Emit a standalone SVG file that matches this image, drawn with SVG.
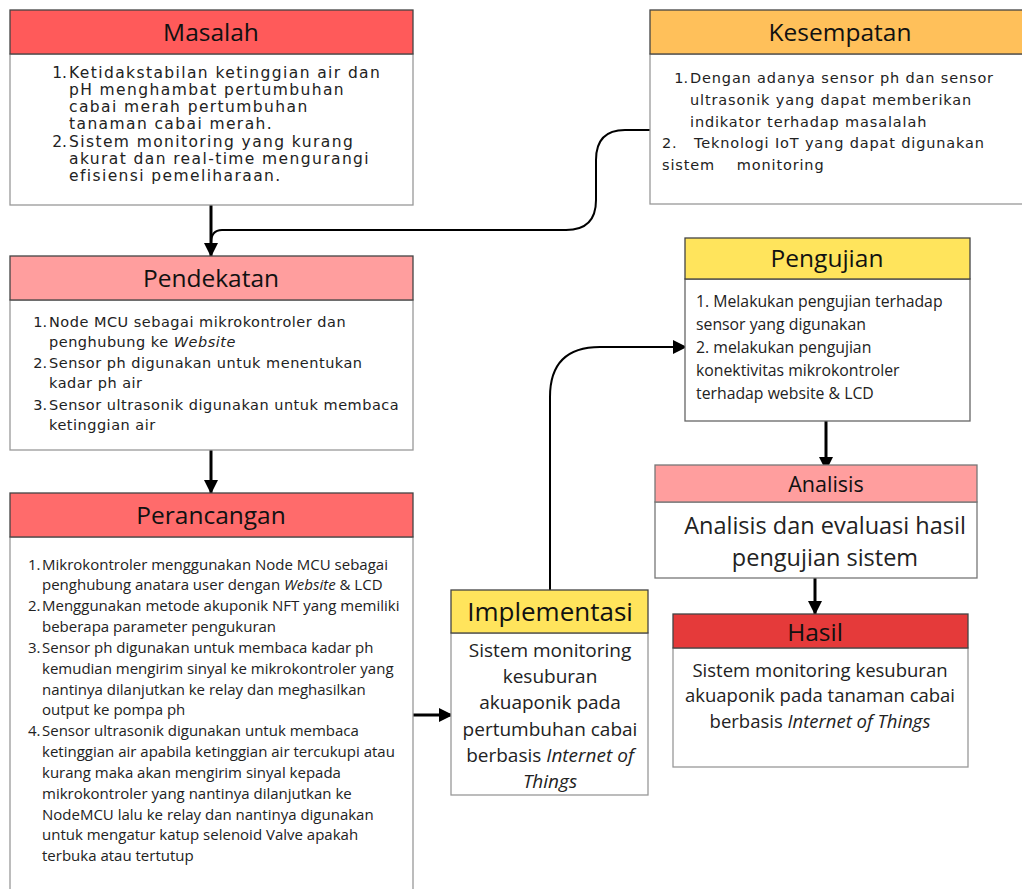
<svg xmlns="http://www.w3.org/2000/svg" width="1022" height="889" viewBox="0 0 1022 889">
<defs>
<marker id="ahb" markerWidth="14" markerHeight="14" refX="13" refY="7" orient="auto" markerUnits="userSpaceOnUse">
<path d="M0,0 L14,7 L0,14 Z" fill="#000"/>
</marker>
</defs>
<style>
.body{fill:#fff;stroke:#999;stroke-width:1.3}
.hdr{stroke:#444;stroke-width:1.3}
.title{font-family:"Open Sans","Noto Sans",sans-serif;fill:#111;text-anchor:middle;font-size:24.5px}
.pop{font-family:"DejaVu Sans","Noto Sans",sans-serif;fill:#222}
.os{font-family:"Open Sans","Noto Sans",sans-serif;fill:#222}
.ctr{text-anchor:middle}
.num{text-anchor:end;letter-spacing:0}
.conn{fill:none;stroke:#000}
</style>
<rect width="1022" height="889" fill="#fff"/>

<g id="connectors">
<path class="conn" stroke-width="3" d="M211,205 V243" />
<path class="conn" stroke-width="3" d="M211,243 V256" marker-end="url(#ahb)"/>
<path class="conn" stroke-width="2" d="M650,130 H625 Q596,130 596,160 V200 Q596,230 566,230 H222 Q211,230 211,243"/>
<path class="conn" stroke-width="3" d="M211,450 V493" marker-end="url(#ahb)"/>
<path class="conn" stroke-width="3" d="M413,715 H452" marker-end="url(#ahb)"/>
<path class="conn" stroke-width="2" d="M550,590 V397 Q550,347 600,347 H686" marker-end="url(#ahb)"/>
<path class="conn" stroke-width="3" d="M826,421 V470" marker-end="url(#ahb)"/>
<path class="conn" stroke-width="3" d="M815,578 V614" marker-end="url(#ahb)"/>
</g>

<g id="masalah">
<rect class="body" x="10" y="54" width="403" height="151"/>
<rect class="hdr" x="10" y="10" width="403" height="44" fill="#FF5A5A"/>
<text class="title" x="211" y="41">Masalah</text>
<g class="pop" font-size="15.5" letter-spacing="1.4">
<text class="num" x="67" y="78">1.</text><text x="69" y="78">Ketidakstabilan ketinggian air dan</text>
<text x="69" y="95">pH menghambat pertumbuhan</text>
<text x="69" y="112">cabai merah pertumbuhan</text>
<text x="69" y="129">tanaman cabai merah.</text>
<text class="num" x="67" y="147">2.</text><text x="69" y="147">Sistem monitoring yang kurang</text>
<text x="69" y="164">akurat dan real-time mengurangi</text>
<text x="69" y="181">efisiensi pemeliharaan.</text>
</g>
</g>

<g id="kesempatan">
<rect class="body" x="650" y="54" width="380" height="150"/>
<rect class="hdr" x="650" y="10" width="380" height="44" fill="#FFC05A"/>
<text class="title" x="840" y="41">Kesempatan</text>
<g class="pop" font-size="14.5" letter-spacing="0.85">
<text class="num" x="688" y="83">1.</text><text x="690" y="83">Dengan adanya sensor ph dan sensor</text>
<text x="690" y="105">ultrasonik yang dapat memberikan</text>
<text x="690" y="127">indikator terhadap masalalah</text>
<text x="662" y="148" xml:space="preserve">2.   Teknologi IoT yang dapat digunakan</text>
<text x="662" y="170" xml:space="preserve">sistem    monitoring</text>
</g>
</g>

<g id="pendekatan">
<rect class="body" x="10" y="300" width="403" height="150"/>
<rect class="hdr" x="10" y="256" width="403" height="44" fill="#FF9E9E"/>
<text class="title" x="211" y="287">Pendekatan</text>
<g class="pop" font-size="14.5" letter-spacing="0.5">
<text class="num" x="47" y="327">1.</text><text x="49" y="327">Node MCU sebagai mikrokontroler dan</text>
<text x="49" y="347">penghubung ke <tspan font-style="italic">Website</tspan></text>
<text class="num" x="47" y="368">2.</text><text x="49" y="368">Sensor ph digunakan untuk menentukan</text>
<text x="49" y="388">kadar ph air</text>
<text class="num" x="47" y="410">3.</text><text x="49" y="410">Sensor ultrasonik digunakan untuk membaca</text>
<text x="49" y="430">ketinggian air</text>
</g>
</g>

<g id="perancangan">
<rect class="body" x="10" y="537" width="403" height="360"/>
<rect class="hdr" x="10" y="493" width="403" height="44" fill="#FF6B6B"/>
<text class="title" x="211" y="524">Perancangan</text>
<g class="os" font-size="15">
<text x="28" y="570">1.</text><text x="42" y="570">Mikrokontroler menggunakan Node MCU sebagai</text>
<text x="42" y="590">penghubung anatara user dengan <tspan font-style="italic">Website</tspan> &amp; LCD</text>
<text x="28" y="611">2.</text><text x="42" y="611">Menggunakan metode akuponik NFT yang memiliki</text>
<text x="42" y="632">beberapa parameter pengukuran</text>
<text x="28" y="653">3.</text><text x="42" y="653">Sensor ph digunakan untuk membaca kadar ph</text>
<text x="42" y="674">kemudian mengirim sinyal ke mikrokontroler yang</text>
<text x="42" y="695">nantinya dilanjutkan ke relay dan meghasilkan</text>
<text x="42" y="715">output ke pompa ph</text>
<text x="28" y="736">4.</text><text x="42" y="736">Sensor ultrasonik digunakan untuk membaca</text>
<text x="42" y="757">ketinggian air apabila ketinggian air tercukupi atau</text>
<text x="42" y="778">kurang maka akan mengirim sinyal kepada</text>
<text x="42" y="799">mikrokontroler yang nantinya dilanjutkan ke</text>
<text x="42" y="820">NodeMCU lalu ke relay dan nantinya digunakan</text>
<text x="42" y="840">untuk mengatur katup selenoid Valve apakah</text>
<text x="42" y="861">terbuka atau tertutup</text>
</g>
</g>

<g id="implementasi">
<rect class="body" x="451" y="633" width="197" height="162"/>
<rect class="hdr" x="451" y="590" width="197" height="43" fill="#FFE45C"/>
<text class="title" x="550" y="621" style="font-size:26px">Implementasi</text>
<g class="os ctr" font-size="19">
<text x="550" y="657">Sistem monitoring</text>
<text x="550" y="683">kesuburan</text>
<text x="550" y="709">akuaponik pada</text>
<text x="550" y="736">pertumbuhan cabai</text>
<text x="550" y="762">berbasis <tspan font-style="italic">Internet of</tspan></text>
<text x="550" y="788" font-style="italic">Things</text>
</g>
</g>

<g id="pengujian">
<rect class="body" x="685" y="279" width="285" height="142" style="stroke:#666"/>
<rect class="hdr" x="685" y="238" width="285" height="41" fill="#FFE45C"/>
<text class="title" x="827" y="267">Pengujian</text>
<g class="os" font-size="15.8">
<text x="696" y="307">1. Melakukan pengujian terhadap</text>
<text x="696" y="330">sensor yang digunakan</text>
<text x="696" y="353">2. melakukan pengujian</text>
<text x="696" y="376">konektivitas mikrokontroler</text>
<text x="696" y="399">terhadap website &amp; LCD</text>
</g>
</g>

<g id="analisis">
<rect class="body" x="655" y="502" width="322" height="76" style="stroke:#777"/>
<rect class="hdr" x="655" y="465" width="322" height="37" fill="#FF9E9E" style="stroke:#777"/>
<text class="title" x="826" y="492" style="font-size:21.5px">Analisis</text>
<g class="os ctr" font-size="23.5">
<text x="825" y="534">Analisis dan evaluasi hasil</text>
<text x="825" y="566">pengujian sistem</text>
</g>
</g>

<g id="hasil">
<rect class="body" x="673" y="648" width="295" height="119"/>
<rect class="hdr" x="673" y="614" width="295" height="34" fill="#E53A3A"/>
<text class="title" x="815" y="641">Hasil</text>
<g class="os ctr" font-size="18.5">
<text x="820" y="677">Sistem monitoring kesuburan</text>
<text x="820" y="702">akuaponik pada tanaman cabai</text>
<text x="820" y="728">berbasis <tspan font-style="italic">Internet of Things</tspan></text>
</g>
</g>
</svg>
